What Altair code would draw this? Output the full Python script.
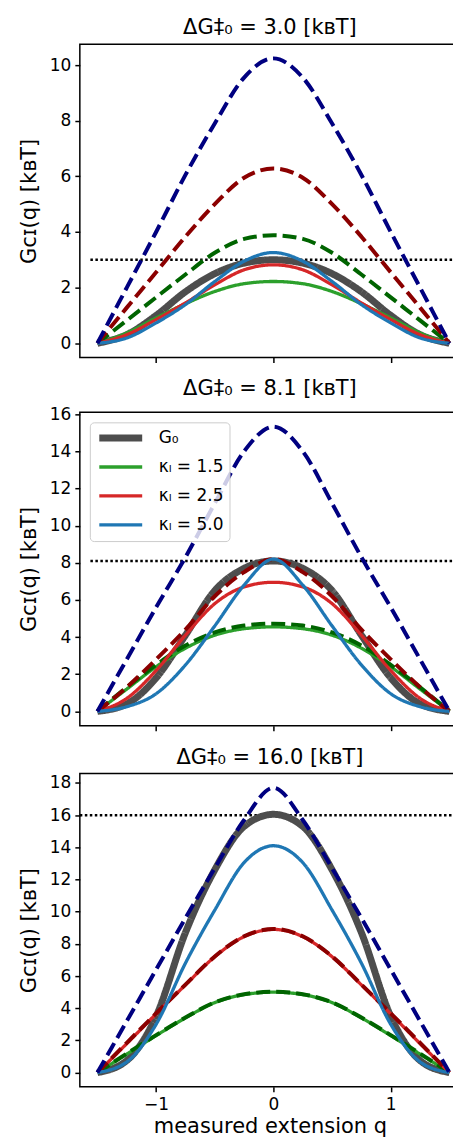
import altair as alt
import pandas as pd

# ---------------- data ----------------
q_values = [-1.5, -1.25, -1.0, -0.75, -0.5, -0.25, 0.0, 0.25, 0.5, 0.75, 1.0, 1.25, 1.5]

barriers = [3.0, 8.1, 16.0]
panel_titles = ["ΔG‡₀ = 3.0 [kʙT]", "ΔG‡₀ = 8.1 [kʙT]", "ΔG‡₀ = 16.0 [kʙT]"]

series_names = ["G₀", "κₗ = 1.5", "d 1.5", "κₗ = 2.5", "d 2.5", "κₗ = 5.0", "d 5.0"]
legend_names = ["G₀", "κₗ = 1.5", "κₗ = 2.5", "κₗ = 5.0"]

# panel 1 (barrier 3.0)
g0_p1 = [0, 0.31, 1.0, 1.85, 2.5, 2.88, 3.0, 2.88, 2.5, 1.85, 1.0, 0.31, 0]
k15_p1 = [0, 0.37, 0.91, 1.42, 1.86, 2.14, 2.22, 2.14, 1.86, 1.42, 0.91, 0.37, 0]
d15_p1 = [0, 0.82, 1.65, 2.47, 3.25, 3.75, 3.88, 3.75, 3.25, 2.47, 1.65, 0.82, 0]
k25_p1 = [0, 0.31, 0.85, 1.45, 2.1, 2.64, 2.82, 2.64, 2.1, 1.45, 0.85, 0.31, 0]
d25_p1 = [0, 1.28, 2.55, 3.83, 5.0, 5.95, 6.28, 5.95, 5.0, 3.83, 2.55, 1.28, 0]
k50_p1 = [0, 0.19, 0.73, 1.39, 2.22, 2.95, 3.26, 2.95, 2.22, 1.39, 0.73, 0.19, 0]
d50_p1 = [0, 2.0, 4.0, 6.05, 7.9, 9.55, 10.24, 9.55, 7.9, 6.05, 4.0, 2.0, 0]

# panel 2 (barrier 8.1)
g0_p2 = [0, 0.4, 1.8, 4.1, 6.5, 7.7, 8.1, 7.7, 6.5, 4.1, 1.8, 0.4, 0]
k15_p2 = [0, 1.2, 2.4, 3.4, 4.1, 4.45, 4.55, 4.45, 4.1, 3.4, 2.4, 1.2, 0]
d15_p2 = [0, 1.3, 2.5, 3.55, 4.25, 4.62, 4.72, 4.62, 4.25, 3.55, 2.5, 1.3, 0]
k25_p2 = [0, 0.7, 2.2, 4.1, 5.8, 6.7, 6.95, 6.7, 5.8, 4.1, 2.2, 0.7, 0]
d25_p2 = [0, 1.3, 2.8, 4.4, 6.2, 7.5, 8.2, 7.5, 6.2, 4.4, 2.8, 1.3, 0]
k50_p2 = [0, 0.25, 0.95, 2.5, 4.6, 6.8, 8.2, 6.8, 4.6, 2.5, 0.95, 0.25, 0]
d50_p2 = [0, 2.8, 5.6, 8.3, 11.2, 14.0, 15.33, 14.0, 11.2, 8.3, 5.6, 2.8, 0]

# panel 3 (barrier 16.0)
g0_p3 = [0, 0.75, 3.5, 8.7, 12.6, 15.3, 16.05, 15.3, 12.6, 8.7, 3.5, 0.75, 0]
k15_p3 = [0, 1.15, 2.3, 3.4, 4.35, 4.85, 5.0, 4.85, 4.35, 3.4, 2.3, 1.15, 0]
d15_p3 = [0, 1.18, 2.33, 3.42, 4.37, 4.87, 5.02, 4.87, 4.37, 3.42, 2.33, 1.18, 0]
k25_p3 = [0, 1.8, 3.65, 5.45, 7.2, 8.45, 8.9, 8.45, 7.2, 5.45, 3.65, 1.8, 0]
d25_p3 = [0, 1.85, 3.68, 5.47, 7.22, 8.47, 8.93, 8.47, 7.22, 5.47, 3.68, 1.85, 0]
k50_p3 = [0, 0.66, 3.0, 6.8, 10.1, 13.05, 14.1, 13.05, 10.1, 6.8, 3.0, 0.66, 0]
d50_p3 = [0, 3.2, 6.4, 9.6, 12.7, 15.7, 17.7, 15.7, 12.7, 9.6, 6.4, 3.2, 0]

panel_series = [
    [g0_p1, k15_p1, d15_p1, k25_p1, d25_p1, k50_p1, d50_p1],
    [g0_p2, k15_p2, d15_p2, k25_p2, d25_p2, k50_p2, d50_p2],
    [g0_p3, k15_p3, d15_p3, k25_p3, d25_p3, k50_p3, d50_p3],
]

y_ticks = [[0, 2, 4, 6, 8, 10], [0, 2, 4, 6, 8, 10, 12, 14, 16], [0, 2, 4, 6, 8, 10, 12, 14, 16, 18]]
y_domains = [[-0.512, 10.75], [-0.77, 16.1], [-0.885, 18.585]]
x_ticks = [-1, 0, 1]
hline_start = [-1.56, -1.56, -1.65]

# ---------------- styling ----------------
FONT = "DejaVu Sans"
XDOM = [-1.65, 1.59]
W = 381
H = 314
colors = ["#4d4d4d", "#2ca02c", "#006400", "#d62728", "#8b0000", "#1f77b4", "#000080"]
widths = [7, 3.3, 4, 3.3, 4, 3.3, 4]
dashes = [[1, 0], [1, 0], [14, 6], [1, 0], [14, 6], [1, 0], [14, 6]]


def make_panel(i):
    rows = []
    for name, vals in zip(series_names, panel_series[i]):
        for qv, gv in zip(q_values, vals):
            rows.append({"series": name, "q": qv, "G": gv})
    df = pd.DataFrame(rows)

    last = i == 2
    xaxis = alt.Axis(
        values=x_ticks,
        tickCount=20,
        format="d",
        labels=last,
        title="measured extension q" if last else None,
        grid=False,
        domain=False,
        tickSize=5,
        tickWidth=1.5,
        tickColor="black",
        labelFontSize=17,
        labelFont=FONT,
        labelColor="black",
        labelPadding=5,
        titleFontSize=21,
        titleFont=FONT,
        titleFontWeight="normal",
        titleColor="black",
        titlePadding=3,
    )
    yaxis = alt.Axis(
        values=y_ticks[i],
        tickCount=20,
        format="d",
        labelOverlap=False,
        title="Gᴄɪ(q) [kʙT]",
        grid=False,
        domain=False,
        tickSize=5,
        tickWidth=1.5,
        tickColor="black",
        labelFontSize=17,
        labelFont=FONT,
        labelColor="black",
        labelPadding=4,
        titleFontSize=21,
        titleFont=FONT,
        titleFontWeight="normal",
        titleColor="black",
        titlePadding=10,
    )

    if i == 1:
        leg = dict(
            orient="top-left",
            offset=10,
            title=None,
            values=legend_names,
            labelFont=FONT,
            labelFontSize=17,
            labelColor="black",
            labelOffset=13,
            symbolType="stroke",
            symbolSize=43 * 43,
            clipHeight=19.5,
            rowPadding=9,
            padding=6,
            fillColor="rgba(255,255,255,0.8)",
            strokeColor="#cccccc",
            cornerRadius=4,
        )
        c_leg = alt.Legend(**leg)
        w_leg = alt.Legend(**leg)
        d_leg = alt.Legend(**leg)
    else:
        c_leg = w_leg = d_leg = None

    xs = alt.Scale(domain=XDOM, nice=False, zero=False)
    ys = alt.Scale(domain=y_domains[i], nice=False, zero=False)

    lines = alt.Chart(df).mark_line(interpolate="monotone", clip=True).encode(
        x=alt.X("q:Q", scale=xs, axis=xaxis),
        y=alt.Y("G:Q", scale=ys, axis=yaxis),
        color=alt.Color("series:N", scale=alt.Scale(domain=series_names, range=colors), legend=c_leg),
        strokeWidth=alt.StrokeWidth("series:N", scale=alt.Scale(type="ordinal", domain=series_names, range=widths), legend=w_leg),
        strokeDash=alt.StrokeDash("series:N", scale=alt.Scale(domain=series_names, range=dashes), legend=d_leg),
    )

    hdf = pd.DataFrame({"x1": [hline_start[i]], "x2": [XDOM[1]], "y": [barriers[i]]})
    hline = alt.Chart(hdf).mark_rule(color="black", strokeWidth=2.5, strokeDash=[2.5, 2.5]).encode(
        x="x1:Q", x2="x2:Q", y="y:Q"
    )

    return alt.layer(hline, lines).properties(
        width=W,
        height=H,
        title=alt.TitleParams(
            panel_titles[i],
            fontSize=21,
            font=FONT,
            fontWeight="normal",
            color="black",
            anchor="middle",
            offset=6,
        ),
    )


chart = (
    alt.vconcat(make_panel(0), make_panel(1), make_panel(2), spacing=13)
    .resolve_scale(x="independent", y="independent", color="independent",
                   strokeWidth="independent", strokeDash="independent")
    .properties(padding={"left": 9, "top": 7, "right": -9, "bottom": 0})
    .configure(font=FONT)
    .configure_axis(labelOverlap=False)
    .configure_view(stroke="black", strokeWidth=1.5)
    .configure_title(fontWeight="normal", font=FONT)
)

chart.save("out.html", embed_options={"renderer": "svg", "actions": False})
